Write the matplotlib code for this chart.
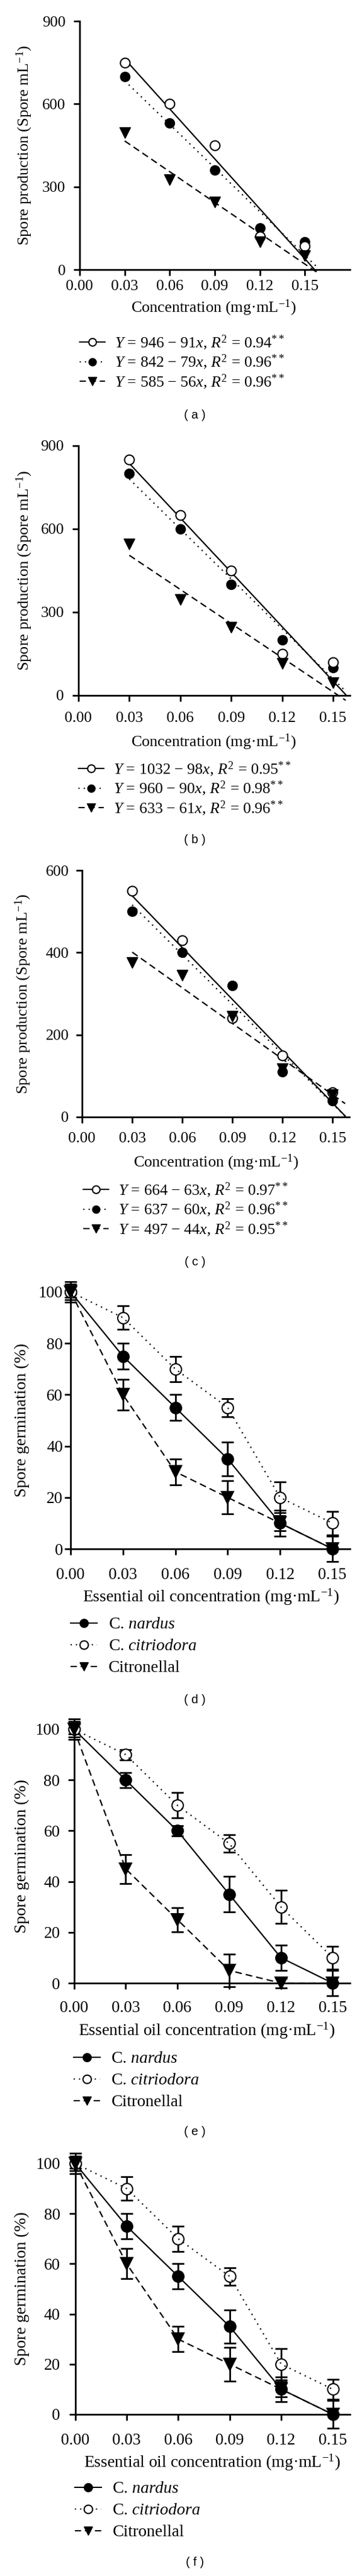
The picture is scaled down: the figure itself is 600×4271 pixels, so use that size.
import numpy as np
import matplotlib
matplotlib.use("Agg")
import matplotlib.pyplot as plt
from matplotlib.lines import Line2D

plt.rcParams["font.family"] = "serif"
plt.rcParams["font.serif"] = ["Liberation Serif", "DejaVu Serif"]
plt.rcParams["mathtext.fontset"] = "custom"
plt.rcParams["mathtext.rm"] = "Liberation Serif"
plt.rcParams["mathtext.it"] = "Liberation Serif:italic"
plt.rcParams["axes.unicode_minus"] = True

# ---- data ----
conc = [0.03, 0.06, 0.09, 0.12, 0.15]
conc0 = [0.0, 0.03, 0.06, 0.09, 0.12, 0.15]
xticks = [0.0, 0.03, 0.06, 0.09, 0.12, 0.15]

# spore production (a)-(c): open circle, filled circle, triangle
a_open = [750, 600, 450, 120, 85]
a_fill = [700, 530, 360, 150, 100]
a_tri = [495, 325, 245, 100, 50]
a_labels = ["$Y$ = 946 − 91$x$, $R^2$ = 0.94$^{**}$",
            "$Y$ = 842 − 79$x$, $R^2$ = 0.96$^{**}$",
            "$Y$ = 585 − 56$x$, $R^2$ = 0.96$^{**}$"]

b_open = [850, 650, 450, 150, 120]
b_fill = [800, 600, 400, 200, 100]
b_tri = [545, 345, 245, 115, 45]
b_labels = ["$Y$ = 1032 − 98$x$, $R^2$ = 0.95$^{**}$",
            "$Y$ = 960 − 90$x$, $R^2$ = 0.98$^{**}$",
            "$Y$ = 633 − 61$x$, $R^2$ = 0.96$^{**}$"]

c_open = [550, 430, 240, 150, 60]
c_fill = [500, 400, 320, 110, 40]
c_tri = [375, 345, 245, 118, 55]
c_labels = ["$Y$ = 664 − 63$x$, $R^2$ = 0.97$^{**}$",
            "$Y$ = 637 − 60$x$, $R^2$ = 0.96$^{**}$",
            "$Y$ = 497 − 44$x$, $R^2$ = 0.95$^{**}$"]

# spore germination (d)-(f)
d_nardus = [100, 75, 55, 35, 10, 0]
d_nardus_err = [2, 5, 5, 6.5, 5, 5]
d_citrio = [100, 90, 70, 55, 20, 10]
d_citrio_err = [3, 4.5, 5, 3.5, 6, 4.5]
d_citron = [100, 60, 30, 20, 10, 0]
d_citron_err = [4, 6, 5, 6.5, 3, 0]

e_nardus = [100, 80, 60, 35, 10, 0]
e_nardus_err = [2, 3, 2, 7, 5, 5]
e_citrio = [100, 90, 70, 55, 30, 10]
e_citrio_err = [3, 2, 5, 3.5, 6.5, 4.5]
e_citron = [100, 45, 25, 5, 0, 0]
e_citron_err = [4, 5.7, 4.7, 6.5, 2, 0]

f_nardus = [100, 75, 55, 35, 10, 0]
f_nardus_err = [2, 5, 5, 6.7, 5, 5.5]
f_citrio = [100, 90, 70, 55, 20, 10]
f_citrio_err = [3, 4.7, 5, 3.5, 6.3, 4]
f_citron = [100, 60, 30, 20, 10, 0]
f_citron_err = [4, 6, 5, 6.7, 3, 0]

germ_labels = ["C. $\\mathit{nardus}$", "C. $\\mathit{citriodora}$", "Citronellal"]

W, H = 600, 4271
fig = plt.figure(figsize=(W / 100, H / 100), dpi=100)

DOT = (0, (1, 3.2))
DASH = (0, (5, 3))


def make_ax(l, r, t, b):
    return fig.add_axes([l / W, 1 - b / H, (r - l) / W, (b - t) / H])


def style(ax, xmax, ymax, yticks, xpad, ypad, fs):
    ax.spines[["top", "right"]].set_visible(False)
    ax.spines["left"].set_linewidth(2)
    ax.spines["bottom"].set_linewidth(2)
    ax.set_xlim(0, xmax)
    ax.set_ylim(0, ymax)
    ax.set_xticks(xticks)
    ax.set_xticklabels([f"{v:.2f}" for v in xticks])
    ax.set_yticks(yticks)
    ax.tick_params(direction="out", length=7.2, width=2, labelsize=fs)
    ax.tick_params(axis="x", pad=xpad)
    ax.tick_params(axis="y", pad=ypad)


def labels(ax, box, xlab, xc, yc, ylab, yx, fs):
    l, r, t, b = box
    ax.set_xlabel(xlab, fontsize=fs, va="center", ha="center")
    ax.set_ylabel(ylab, fontsize=fs, va="center", ha="center")
    ax.xaxis.set_label_coords((xc - l) / (r - l), (b - yc) / (b - t))
    ax.yaxis.set_label_coords((yx - l) / (r - l), 0.5)


def production(box, vals, labs, ymax, yticks, xmax, xpad, ypad, xlab_pos, ylab_x,
               leg_pos, cap_y, cap):
    op, fi, tr = vals
    ax = make_ax(*box)
    style(ax, xmax, ymax, yticks, xpad, ypad, 18.5)
    xs = np.array([0.03, 0.1575])
    for v, ls in [(op, "-"), (fi, DOT), (tr, DASH)]:
        k, m = np.polyfit(conc, v, 1)
        ax.plot(xs, k * xs + m, color="k", ls=ls, lw=1.6, zorder=2, clip_on=False)
    ax.plot(conc, fi, "o", color="k", ms=11.5, zorder=3, clip_on=False)
    ax.plot(conc, op, "o", mfc="white", mec="k", mew=1.5, ms=11.5, zorder=4, clip_on=False)
    ax.plot(conc, tr, "v", color="k", ms=13, zorder=5, clip_on=False)
    labels(ax, box, "Concentration (mg·mL$^{-1}$)", xlab_pos[0], xlab_pos[1],
           "Spore production (Spore mL$^{-1}$)", ylab_x, 19)
    hs = [Line2D([], [], color="k", ls="-", lw=1.5, marker="o", mfc="white", mec="k", mew=1.5, ms=9),
          Line2D([], [], color="k", ls=DOT, lw=1.5, marker="o", ms=9),
          Line2D([], [], color="k", ls=DASH, lw=1.5, marker="v", ms=9.5)]
    fig.legend(hs, labs, loc="upper left", bbox_to_anchor=(leg_pos[0] / W, 1 - leg_pos[1] / H),
               frameon=False, fontsize=18.7, borderpad=0, borderaxespad=0,
               handlelength=1.6, handletextpad=0.65, labelspacing=0.12, numpoints=1)
    fig.text(323 / W, 1 - cap_y / H, cap, family="Liberation Sans", fontsize=14.5,
             ha="center", va="center")
    return ax


def germination(box, series, xpad, ypad, xlab_pos, ylab_x, leg_pos, cap_y, cap):
    ax = make_ax(*box)
    style(ax, 0.16, 100, [0, 20, 40, 60, 80, 100], xpad, ypad, 19.5)
    styles = [dict(ls="-", marker="o", mfc="k", ms=13.5),
              dict(ls=DOT, marker="o", mfc="white", ms=13.5),
              dict(ls=DASH, marker="v", mfc="k", ms=14.5)]
    z = 3
    for (v, err), st in zip(series, styles):
        eb = ax.errorbar(conc0, v, yerr=err, fmt="none", ecolor="k", elinewidth=2,
                         capsize=7, capthick=2, zorder=z)
        for c in eb.lines[1]:
            c.set_clip_on(False)
        for c in eb.lines[2]:
            c.set_clip_on(False)
        ax.plot(conc0, v, ls="none", marker=st["marker"], mfc=st["mfc"], mec="k",
                mew=1.5, ms=st["ms"], zorder=z + 1, clip_on=False)
        ax.plot(conc0, v, color="k", ls=st["ls"], lw=1.6, zorder=z + 2, clip_on=False)
        z += 3
    labels(ax, box, "Essential oil concentration (mg·mL$^{-1}$)", xlab_pos[0], xlab_pos[1],
           "Spore germination (%)", ylab_x, 20)
    hs = [Line2D([], [], color="k", ls="-", lw=1.5, marker="o", ms=10),
          Line2D([], [], color="k", ls=DOT, lw=1.5, marker="o", mfc="white", mec="k", mew=1.5, ms=10),
          Line2D([], [], color="k", ls=DASH, lw=1.5, marker="v", ms=10.5)]
    fig.legend(hs, germ_labels, loc="upper left", bbox_to_anchor=(leg_pos[0] / W, 1 - leg_pos[1] / H),
               frameon=False, fontsize=20, borderpad=0, borderaxespad=0,
               handlelength=1.6, handletextpad=0.65, labelspacing=0.38, numpoints=1)
    fig.text(323 / W, 1 - cap_y / H, cap, family="Liberation Sans", fontsize=14.5,
             ha="center", va="center")
    return ax


production((132, 580, 35, 447), (a_open, a_fill, a_tri), a_labels, 900, [0, 300, 600, 900],
           0.18, 4.7, 9.8, (354, 510), 40, (132, 553), 688, "( a )")
production((130, 580, 739, 1153), (b_open, b_fill, b_tri), b_labels, 900, [0, 300, 600, 900],
           0.16, 12, 10, (354, 1230), 40, (130, 1260), 1393, "( b )")
production((136, 579, 1443, 1852), (c_open, c_fill, c_tri), c_labels, 600, [0, 200, 400, 600],
           0.16, 11, 8.6, (358, 1927), 38, (138, 1958), 2092, "( c )")

germination((117, 580, 2142, 2568),
            [(d_nardus, d_nardus_err), (d_citrio, d_citrio_err), (d_citron, d_citron_err)],
            15, 2, (350, 2648), 36, (117, 2681), 2818, "( d )")
germination((122.5, 580, 2867, 3288),
            [(e_nardus, e_nardus_err), (e_citrio, e_citrio_err), (e_citron, e_citron_err)],
            13.5, 9.4, (343, 3367), 36, (122, 3401), 3535, "( e )")
germination((124.5, 580, 3587, 4003),
            [(f_nardus, f_nardus_err), (f_citrio, f_citrio_err), (f_citron, f_citron_err)],
            15, 10.5, (352, 4083), 36, (124, 4114), 4248, "( f )")

fig.savefig("out.png", dpi=100)
